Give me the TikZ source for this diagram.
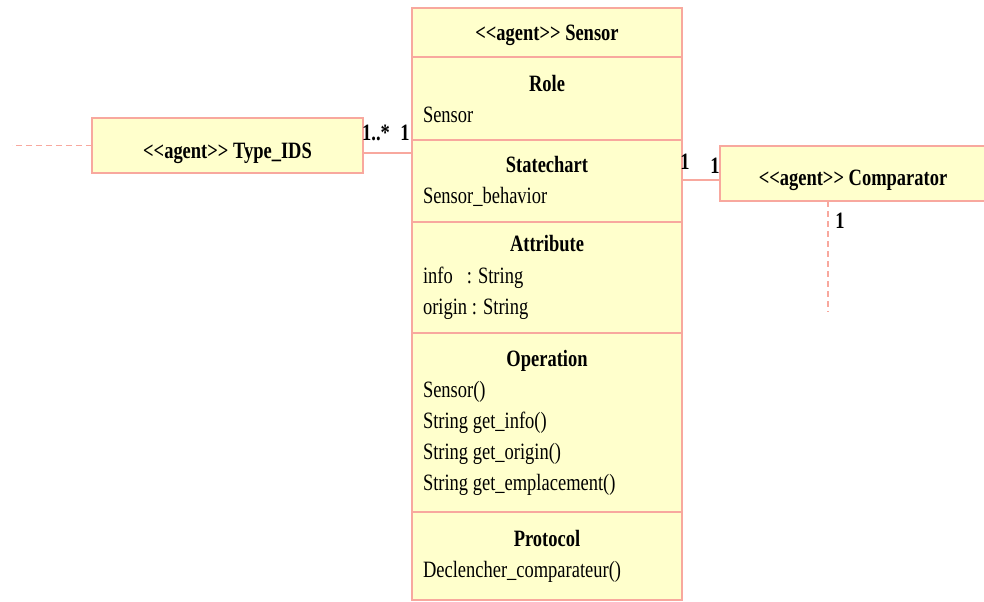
\documentclass[tikz,border=0pt]{standalone}
\usepackage{fontspec}
\setmainfont[FakeStretch=0.79]{Liberation Serif}
\usetikzlibrary{positioning}

\definecolor{umlfill}{RGB}{255,255,204}
\definecolor{umlline}{RGB}{248,168,158}
\newcommand{\agent}{<\kern0pt<agent>\kern0pt>}
\newcommand{\comptitle}[1]{\makebox[\hsize]{\textbf{#1}}}

\begin{document}
\begin{tikzpicture}[x=0.5pt, y=-0.5pt,
    font=\fontsize{11.7}{15.5}\selectfont,
    agentbox/.style={draw=umlline, fill=umlfill, line width=0.8pt, outer sep=0pt},
    comp/.style={agentbox, text width=124pt, inner xsep=5.5pt, inner ysep=0pt, align=flush left},
    assoc/.style={draw=umlline, line width=0.8pt},
    link/.style={draw=umlline, line width=0.8pt, dash pattern=on 3pt off 2pt},
    mult/.style={inner sep=0pt, font=\fontsize{11.7}{14}\selectfont\bfseries}]
            \clip (0,0) rectangle (984,601);

            % agent Sensor, one compartment under the other
            \node[comp, align=flush center, minimum height=24.5pt, text depth=0pt] (sensorHead) at (547,32.5) {\textbf{\agent{} Sensor}};
            \node[comp, minimum height=41.5pt, below=0pt of sensorHead] (role) {\comptitle{Role}\\Sensor};
            \node[comp, minimum height=41pt, below=0pt of role] (statechart) {\comptitle{Statechart}\\Sensor\_behavior};
            \node[comp, minimum height=55.5pt, below=0pt of statechart] (attribute) {\comptitle{Attribute}\\[0.5pt]info\hspace{7pt}: String\\origin : String};
            \node[comp, minimum height=89.5pt, below=0pt of attribute] (operation) {\comptitle{Operation}\\Sensor()\\String get\_info()\\String get\_origin()\\String get\_emplacement()};
            \node[comp, minimum height=44pt, below=0pt of operation] (protocol) {\comptitle{Protocol}\\Declencher\_comparateur()};

            % other agents
            \node[agentbox, minimum width=135.5pt, minimum height=27.5pt, text height=13pt, text depth=0pt] (typeids) at (227.5,145.5) {\textbf{\agent{} Type\_IDS}};
            \node[agentbox, minimum width=133pt, minimum height=27.5pt, text height=12pt, text depth=0pt] (comparator) at (853,173.5) {\textbf{\agent{} Comparator}};

            \coordinate[yshift=-3.75pt] (typeLink) at (typeids.east);
            \coordinate[yshift=-3.25pt] (cmpLink) at (comparator.west);
            \coordinate[xshift=-12.5pt] (cmpDown) at (comparator.south);
            \coordinate (leftEnd) at (12,145.5);
            \coordinate (downEnd) at (828,312);

            \draw[assoc] (typeLink) -- (typeLink -| statechart.west);
            \draw[assoc] (cmpLink) -- (cmpLink -| statechart.east);
            \draw[link] (typeids.west) -- (leftEnd);
            \draw[link] (cmpDown) -- (downEnd);

            \node[mult] (multTypeMany) at (376,133) {1..*};
            \node[mult] (multTypeOne) at (405,133) {1};
            \node[mult] (multSensorCmp) at (685,162) {1};
            \node[mult] (multCmpSensor) at (715,166) {1};
            \node[mult] (multCmpDown) at (840,221) {1};
        \end{tikzpicture}
\end{document}
